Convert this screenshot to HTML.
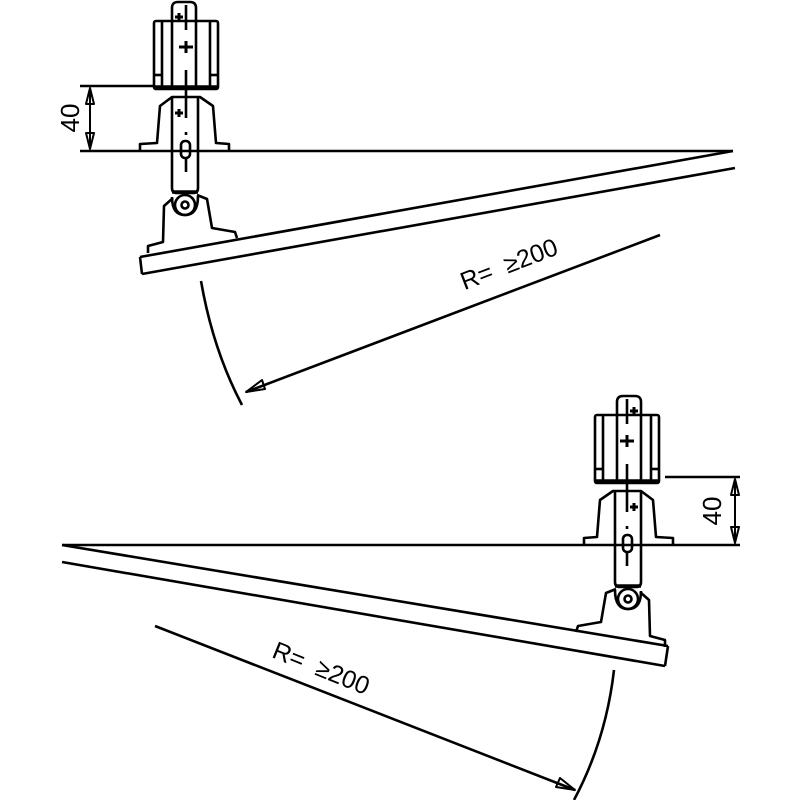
<!DOCTYPE html>
<html><head><meta charset="utf-8"><style>html,body{margin:0;padding:0;background:#fff}svg{display:block}</style></head>
<body>
<svg width="800" height="800" viewBox="0 0 800 800" xmlns="http://www.w3.org/2000/svg" fill="none" stroke="#000" stroke-width="2.6" stroke-linejoin="round">
<defs>
<g id="h">
  <path d="M172,22 L172,8 Q172,2 178,2 L190,2 Q196,2 196,8 L196,22"/>
  <rect x="154" y="21" width="64" height="68" rx="2"/>
  <line x1="162" y1="21" x2="162" y2="89"/>
  <line x1="172" y1="21" x2="172" y2="89"/>
  <line x1="196" y1="21" x2="196" y2="89"/>
  <line x1="210" y1="21" x2="210" y2="89"/>
  <line x1="154" y1="75" x2="162" y2="75"/>
  <line x1="210" y1="75" x2="218" y2="75"/>
  <line x1="154" y1="87" x2="218" y2="87" stroke-width="3.5"/>
  <line x1="186" y1="5" x2="186" y2="30"/>
  <line x1="186" y1="70" x2="186" y2="118"/>
  <path d="M175,17 h8 M179,13 v8 M179,47 h14 M186,41 v12" stroke-width="3"/>
  <path d="M140,151 L140,144 L157,143 L160,106 L172,97 L200,97 L213,106 L216,143 L229,144 L229,151"/>
  <path d="M172,98 L172,188 Q172,193 177,193 L193,193 Q198,193 198,188 L198,98"/>
  <line x1="172" y1="192" x2="198" y2="192" stroke-width="3.5"/>
  <path d="M175,113 h8 M179,109 v8" stroke-width="3"/>
  <rect x="181" y="141" width="9" height="17" rx="4"/>
  <line x1="186" y1="132" x2="186" y2="135"/>
  <line x1="186" y1="158" x2="186" y2="172"/>
  <circle cx="185" cy="205" r="10"/>
  <circle cx="185" cy="205" r="3.5"/>
  <path d="M148,253 L148,246 L163,242 L164,206 L173,198 M197,195 L207,199 L212,228 L235,232 L237,238"/>
  <path d="M172,197 Q172,215 185,215 Q198,215 198,196"/>
</g>
</defs>

<use href="#h"/>
<line x1="80" y1="86" x2="155" y2="86"/>
<line x1="80" y1="151" x2="733" y2="151"/>
<line x1="90" y1="88" x2="90" y2="149" stroke-width="2"/>
<path d="M86,104 L90,88 L94,104 Z M86,133 L90,149 L94,133 Z" stroke-width="2"/>
<text transform="translate(79,118) rotate(-90)" text-anchor="middle" font-family="Liberation Sans, sans-serif" font-size="26" fill="#000" stroke="none">40</text>
<path d="M140,257 L733,151 M142,274 L735,168 M140,257 L142,274"/>
<path d="M201,281 Q213,350 242,405"/>
<line x1="660" y1="235" x2="246" y2="392"/>
<path d="M246,392 L262,380 L265,389 Z" stroke-width="2"/>
<text transform="translate(512,272) rotate(-21)" text-anchor="middle" font-family="Liberation Sans, sans-serif" font-size="25" fill="#000" stroke="none" xml:space="preserve">R=  ≥200</text>

<use href="#h" transform="translate(813,394) scale(-1,1)"/>
<line x1="665" y1="477" x2="740" y2="477"/>
<line x1="62" y1="545" x2="740" y2="545"/>
<line x1="735" y1="479" x2="735" y2="543" stroke-width="2"/>
<path d="M731,495 L735,479 L739,495 Z M731,527 L735,543 L739,527 Z" stroke-width="2"/>
<text transform="translate(721,511) rotate(-90)" text-anchor="middle" font-family="Liberation Sans, sans-serif" font-size="26" fill="#000" stroke="none">40</text>
<path d="M62,545 L668,646 M62,562 L665,666 M668,646 L665,666"/>
<path d="M614,670 Q606,740 574,800"/>
<line x1="155" y1="626" x2="575" y2="790"/>
<path d="M575,790 L556,787 L560,778 Z" stroke-width="2"/>
<text transform="translate(318,676) rotate(22)" text-anchor="middle" font-family="Liberation Sans, sans-serif" font-size="25" fill="#000" stroke="none" xml:space="preserve">R=  ≥200</text>
</svg>
</body></html>
